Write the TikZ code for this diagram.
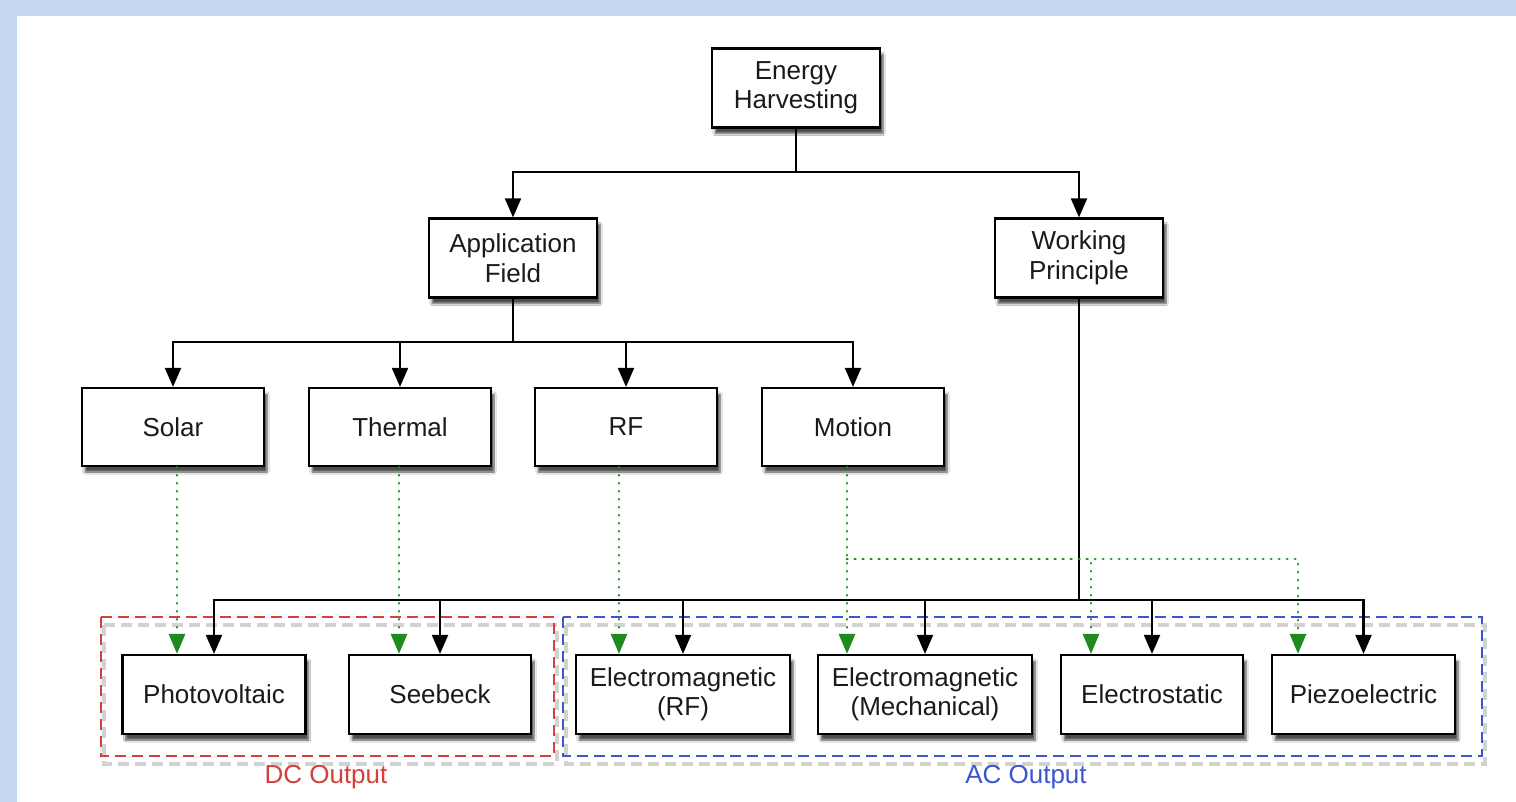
\documentclass[tikz,border=0pt]{standalone}
\usepackage{fontspec}
\setmainfont{Liberation Sans}
\usetikzlibrary{arrows.meta,shadows.blur,calc}
\definecolor{bgblue}{HTML}{C6D9F0}
\definecolor{dcred}{HTML}{D6403B}
\definecolor{acblue}{HTML}{3B55D3}
\definecolor{grn}{HTML}{1F8A1F}
\definecolor{txt}{HTML}{1A1A1A}
\tikzset{
  box/.style={draw=black, line width=2.2pt, fill=white, align=center, inner sep=0pt,
    text=txt, font=\fontsize{26}{29.5}\selectfont,
    blur shadow={shadow xshift=3pt, shadow yshift=-6pt, shadow blur steps=6, shadow opacity=70}},
  wbox/.style={box, minimum width=168pt, minimum height=79pt},
  mbox/.style={box, minimum width=182pt, minimum height=78pt},
  lbox/.style={box, minimum width=183pt, minimum height=79pt},
  xbox/.style={box, minimum width=214pt, minimum height=79pt},
  conn/.style={draw=black, line width=2.1pt},
  arr/.style={conn, -{Triangle[width=16pt,length=19pt]}},
  gline/.style={draw=grn, line width=2.8pt, line cap=round, dash pattern=on 0.3pt off 7.7pt},
  garr/.style={gline, -{Triangle[width=16pt,length=20pt,fill=grn,line cap=butt]}},
  grp/.style={line width=2.4pt, dash pattern=on 11pt off 6pt},
  grpshadow/.style={draw=black!25, line width=4.5pt, dash pattern=on 11pt off 6pt, opacity=0.7},
  grplabel/.style={font=\fontsize{26}{29.5}\selectfont}
}
\begin{document}
\begin{tikzpicture}[x=1pt,y=-1pt]
\useasboundingbox (0,0) rectangle (1516,802);
\fill[bgblue] (0,0) rectangle (1516,802);
\fill[white] (17,16) rectangle (1516,802);

% group boxes (shadow first)
\draw[grpshadow] (104,625) rectangle (557,764);
\draw[grpshadow] (566,625) rectangle (1485,764);
\draw[grp, draw=dcred] (101,617) rectangle (554,756);
\draw[grp, draw=acblue] (563,617) rectangle (1482,756);
\node[grplabel, text=dcred] (dcl) at (326,777) {DC Output};
\node[grplabel, text=acblue] (acl) at (1026,777) {AC Output};

% nodes
\node[wbox] (EH) at (796,88) {Energy\\Harvesting};
\node[wbox] (AF) at (513,258) {Application\\Field};
\node[wbox] (WP) at (1079,258) {Working\\Principle};
\node[mbox] (SO) at (173,427) {Solar};
\node[mbox] (TH) at (400,427) {Thermal};
\node[mbox] (RF) at (626,427) {RF};
\node[mbox] (MO) at (853,427) {Motion};
\node[lbox] (PV) at (214,694.5) {Photovoltaic};
\node[mbox, minimum height=79pt] (SB) at (440,694.5) {Seebeck};
\node[xbox] (EMR) at (683,694.5) {Electromagnetic\\(RF)};
\node[xbox] (EMM) at (925,694.5) {Electromagnetic\\(Mechanical)};
\node[mbox, minimum height=79pt] (ES) at (1152,694.5) {Electrostatic};
\node[lbox] (PZ) at (1363.5,694.5) {Piezoelectric};

% tree level 1
\coordinate (j1) at (796,172);
\draw[conn] (EH.south) -- (j1);
\draw[arr] (j1) -| (AF.north);
\draw[arr] (j1) -| (WP.north);

% tree level 2
\coordinate (j2) at (513,342);
\draw[conn] (AF.south) -- (j2);
\draw[arr] (j2) -| (SO.north);
\draw[arr] (j2) -| (TH.north);
\draw[arr] (j2) -| (RF.north);
\draw[arr] (j2) -| (MO.north);

% working principle
\coordinate (j3) at (1079,600);
\draw[conn] (WP.south) -- (j3);
\draw[arr] (j3) -| (PV.north);
\draw[arr] (j3) -| (SB.north);
\draw[arr] (j3) -| (EMR.north);
\draw[arr] (j3) -| (EMM.north);
\draw[arr] (j3) -| (ES.north);
\draw[arr] (j3) -| (PZ.north);

% green dotted application links
\draw[garr] ([xshift=4pt]SO.south) -- ([xshift=-37pt]PV.north);
\draw[garr] ([xshift=-1pt]TH.south) -- ([xshift=-41pt]SB.north);
\draw[garr] ([xshift=-7pt]RF.south) -- ([xshift=-64pt]EMR.north);
\draw[garr] ([xshift=-6pt]MO.south) -- ([xshift=-78pt]EMM.north);
\coordinate (mj) at (847,559);
\draw[garr] (mj) -| ([xshift=-61pt]ES.north);
\draw[garr] (mj) -| ([xshift=-65.5pt]PZ.north);
\end{tikzpicture}
\end{document}
